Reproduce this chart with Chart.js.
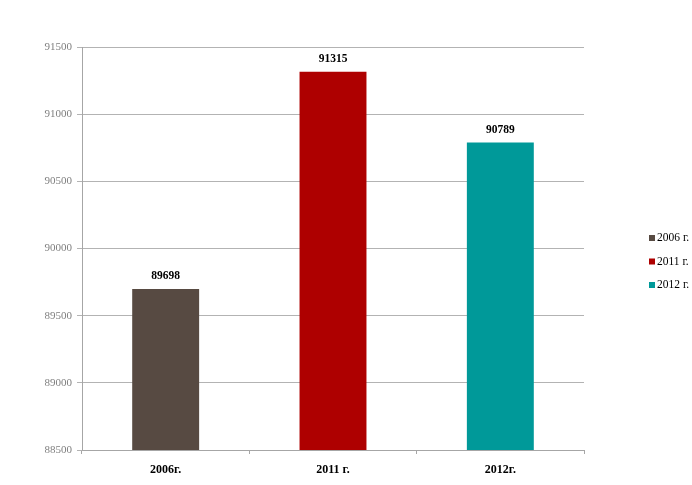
<!DOCTYPE html>
<html>
<head>
<meta charset="utf-8">
<script src="https://cdn.jsdelivr.net/npm/chart.js@4/dist/chart.umd.min.js"></script>
<style>
  html, body { margin: 0; padding: 0; background: #ffffff; }
  #wrap { position: relative; width: 692px; height: 485px; }
</style>
</head>
<body>
<div id="wrap"><canvas id="chart" width="692" height="485"></canvas></div>
<script>
// Population by census year
const categories = ['2006г.', '2011 г.', '2012г.'];
const legendLabels = ['2006 г.', '2011 г.', '2012 г.'];
const values = [89698, 91315, 90789];
const barColors = ['#574a42', '#ae0000', '#009999'];
const yTicks = [88500, 89000, 89500, 90000, 90500, 91000, 91500];

const SERIF = '"Liberation Serif", "Times New Roman", serif';

// Value labels above each bar
const valueLabels = {
  id: 'valueLabels',
  afterDatasetsDraw(chart) {
    const ctx = chart.ctx;
    const meta = chart.getDatasetMeta(0);
    ctx.save();
    ctx.font = 'bold 11.5px ' + SERIF;
    ctx.fillStyle = '#000000';
    ctx.textAlign = 'center';
    ctx.textBaseline = 'alphabetic';
    meta.data.forEach((bar, i) => {
      ctx.fillText(String(values[i]), bar.x, bar.y - 10);
    });
    ctx.restore();
  }
};

// Legend on the right, one swatch per year
const sideLegend = {
  id: 'sideLegend',
  afterDraw(chart) {
    const ctx = chart.ctx;
    ctx.save();
    ctx.font = '11.5px ' + SERIF;
    ctx.textAlign = 'left';
    ctx.textBaseline = 'middle';
    const x0 = 649, y0 = 238, gap = 23.5;
    legendLabels.forEach((lbl, i) => {
      const y = y0 + i * gap;
      ctx.fillStyle = barColors[i];
      ctx.fillRect(x0, y - 3, 6, 6);
      ctx.fillStyle = '#000000';
      ctx.fillText(lbl, x0 + 8, y);
    });
    ctx.restore();
  }
};

new Chart(document.getElementById('chart'), {
  type: 'bar',
  data: {
    labels: categories,
    datasets: [{
      data: values,
      backgroundColor: barColors,
      borderWidth: 0,
      barPercentage: 0.4,
      categoryPercentage: 1.0
    }]
  },
  options: {
    responsive: false,
    animation: false,
    devicePixelRatio: 1,
    layout: { padding: { top: 47, right: 108, bottom: 0, left: 0 } },
    plugins: {
      legend: { display: false },
      tooltip: { enabled: false }
    },
    scales: {
      x: {
        afterFit(scale) { scale.height = 35; },
        grid: {
          display: true,
          drawOnChartArea: false,
          drawTicks: true,
          tickLength: 4,
          color: '#a6a6a6',
          offset: true
        },
        border: { display: true, color: '#a6a6a6', width: 1 },
        ticks: {
          color: '#000000',
          font: { family: SERIF, size: 12, weight: 'bold' },
          padding: 9
        }
      },
      y: {
        min: 88500,
        max: 91500,
        afterFit(scale) { scale.width = 82; },
        afterBuildTicks(scale) {
          scale.ticks = yTicks.map(v => ({ value: v }));
        },
        grid: {
          color: '#b3b3b3',
          drawTicks: true,
          tickLength: 5
        },
        border: { display: true, color: '#a6a6a6', width: 1 },
        ticks: {
          color: '#7f7f7f',
          font: { family: SERIF, size: 11 },
          padding: 5,
          callback: (v) => String(v)
        }
      }
    }
  },
  plugins: [valueLabels, sideLegend]
});
</script>
</body>
</html>
